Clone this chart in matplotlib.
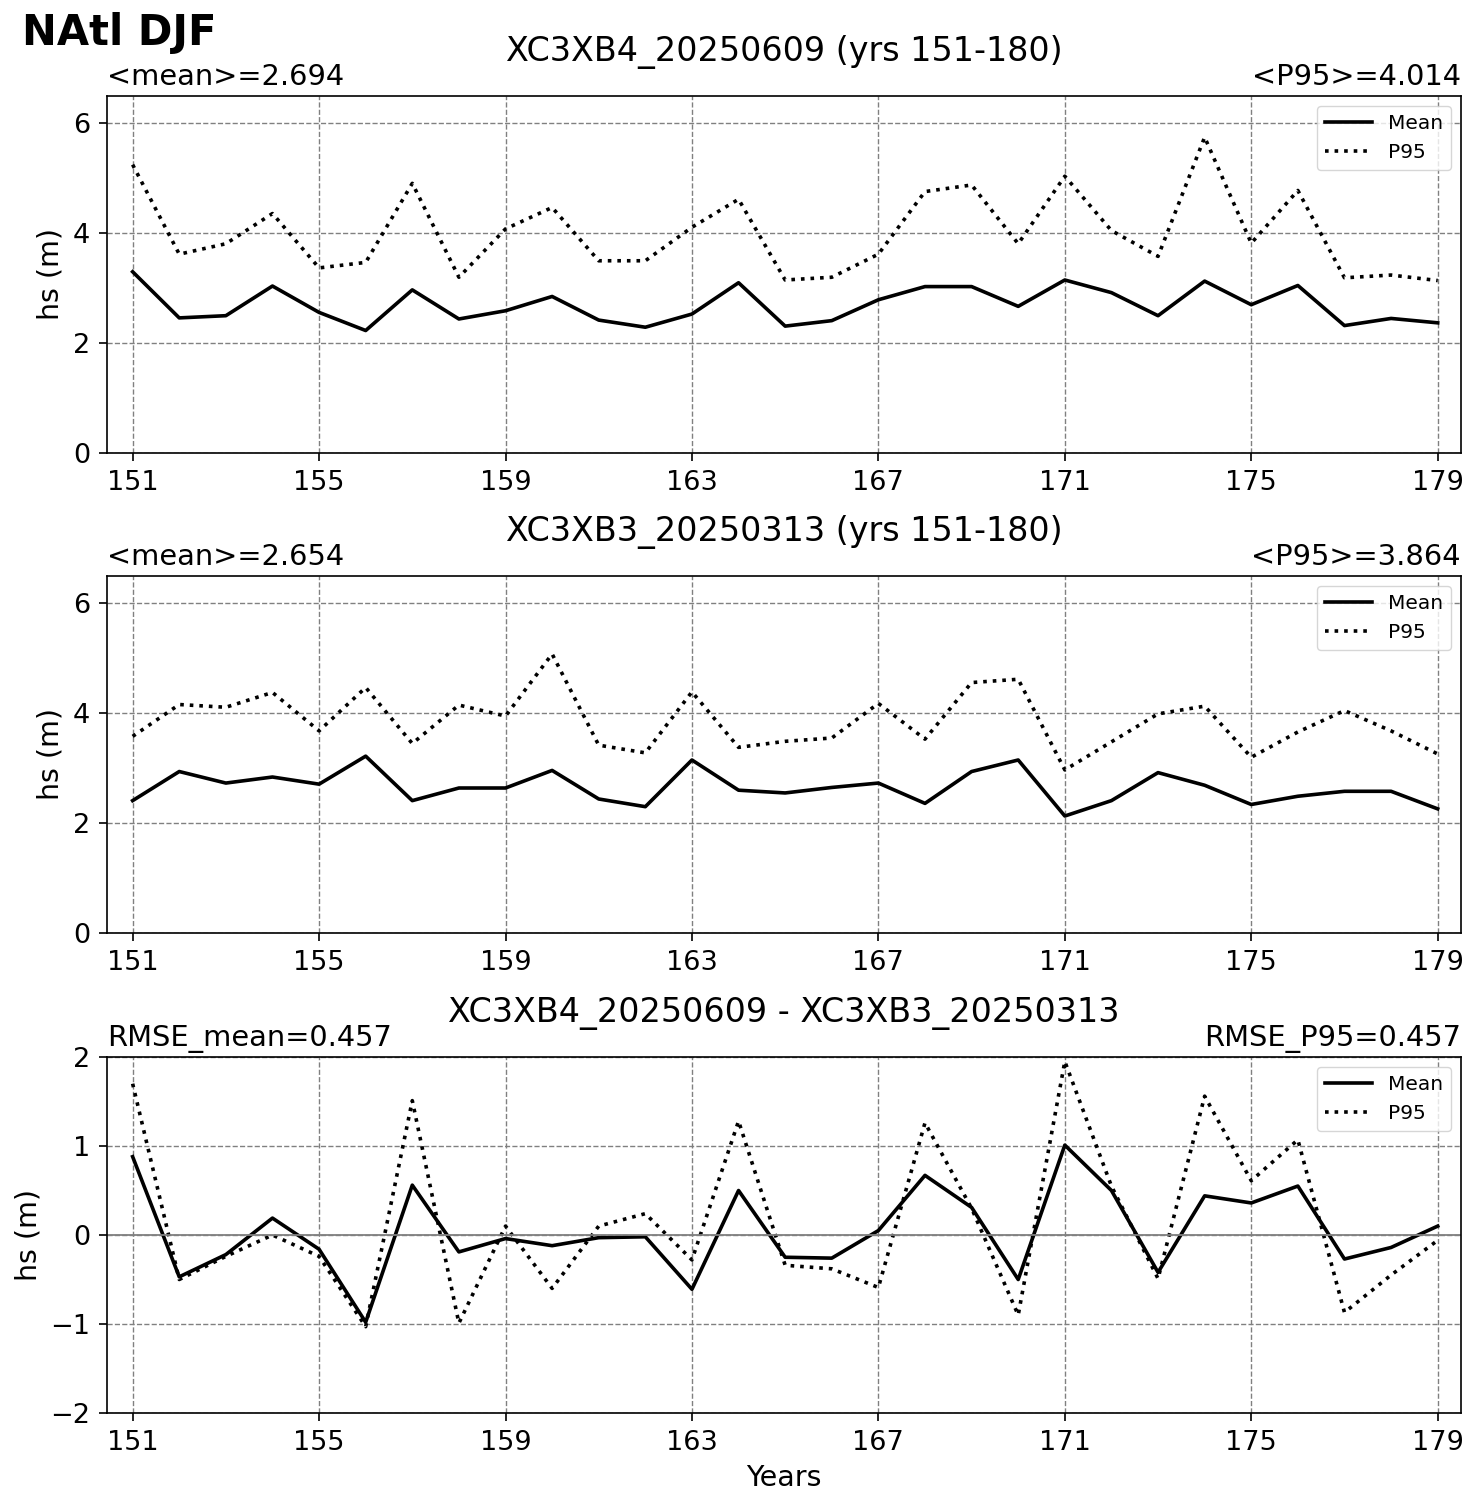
import matplotlib
matplotlib.use("Agg")
import matplotlib.pyplot as plt
import numpy as np

years = list(range(151, 180))

mean_b4 = [3.30, 2.46, 2.50, 3.04, 2.56, 2.23, 2.97, 2.44, 2.59, 2.85, 2.42, 2.29, 2.53, 3.10, 2.31,
           2.41, 2.79, 3.03, 3.03, 2.67, 3.15, 2.92, 2.50, 3.13, 2.70, 3.05, 2.32, 2.45, 2.37]
p95_b4 = [5.25, 3.62, 3.81, 4.36, 3.37, 3.47, 4.91, 3.20, 4.08, 4.47, 3.50, 3.50, 4.11, 4.62, 3.15,
          3.20, 3.62, 4.76, 4.88, 3.81, 5.04, 4.05, 3.58, 5.75, 3.82, 4.78, 3.19, 3.24, 3.14]

mean_b3 = [2.41, 2.94, 2.73, 2.84, 2.71, 3.22, 2.41, 2.64, 2.64, 2.96, 2.44, 2.30, 3.15, 2.60, 2.55,
           2.65, 2.73, 2.36, 2.94, 3.15, 2.13, 2.41, 2.92, 2.69, 2.34, 2.49, 2.58, 2.58, 2.26]
p95_b3 = [3.58, 4.16, 4.11, 4.38, 3.68, 4.47, 3.45, 4.15, 3.95, 5.08, 3.42, 3.28, 4.39, 3.38, 3.49,
          3.55, 4.18, 3.53, 4.56, 4.62, 2.97, 3.48, 3.99, 4.13, 3.20, 3.66, 4.05, 3.68, 3.26]

mean_diff = [0.88, -0.47, -0.22, 0.19, -0.16, -0.98, 0.56, -0.19, -0.04, -0.12, -0.03, -0.02, -0.61, 0.50, -0.25,
             -0.26, 0.05, 0.67, 0.31, -0.50, 1.01, 0.50, -0.42, 0.44, 0.36, 0.55, -0.27, -0.14, 0.10]
p95_diff = [1.70, -0.50, -0.24, 0.00, -0.24, -1.03, 1.51, -0.99, 0.10, -0.60, 0.10, 0.24, -0.28, 1.28, -0.34,
            -0.38, -0.59, 1.26, 0.30, -0.90, 1.95, 0.55, -0.49, 1.56, 0.61, 1.07, -0.87, -0.45, -0.06]

titles = ["XC3XB4_20250609 (yrs 151-180)", "XC3XB3_20250313 (yrs 151-180)",
          "XC3XB4_20250609 - XC3XB3_20250313"]
left_labels = ["<mean>=2.694", "<mean>=2.654", "RMSE_mean=0.457"]
right_labels = ["<P95>=4.014", "<P95>=3.864", "RMSE_P95=0.457"]
xticks = [151, 155, 159, 163, 167, 171, 175, 179]

FS = 19.5
W, H = 1481, 1507
fig = plt.figure(figsize=(W / 100, H / 100), dpi=100)

panels = [(mean_b4, p95_b4), (mean_b3, p95_b3), (mean_diff, p95_diff)]
tops = [96, 576, 1057]
bots = [453, 933, 1413]
left_px, right_px = 107, 1461

for i, (m, p) in enumerate(panels):
    ax = fig.add_axes([left_px / W, 1 - bots[i] / H, (right_px - left_px) / W, (bots[i] - tops[i]) / H])
    ax.plot(years, m, color="black", lw=2.6, ls="-", label="Mean")
    ax.plot(years, p, color="black", lw=2.6, ls=":", label="P95")
    ax.set_xlim(150.45, 179.5)
    if i < 2:
        ax.set_ylim(0, 6.5)
        ax.set_yticks([0, 2, 4, 6])
    else:
        ax.set_ylim(-2, 2)
        ax.set_yticks([-2, -1, 0, 1, 2])
        ax.axhline(0, color="gray", lw=1.3)
    ax.set_xticks(xticks)
    ax.tick_params(labelsize=FS, length=6, width=1.2, pad=6)
    ax.grid(True, ls="--", color="gray", lw=1.0)
    for s in ax.spines.values():
        s.set_linewidth(1.2)
    ax.set_ylabel("hs (m)", fontsize=20.5, labelpad=6)
    ax.set_title(left_labels[i], loc="left", fontsize=20.8, pad=8)
    ax.set_title(right_labels[i], loc="right", fontsize=20.8, pad=8)
    ax.annotate(titles[i], xy=(0.5, 1.0), xycoords="axes fraction", xytext=(0, 25),
                textcoords="offset points", ha="center", va="baseline", fontsize=24)
    ax.legend(loc="upper right", fontsize=14.5, handlelength=2.3)
    if i == 2:
        ax.set_xlabel("Years", fontsize=20.5, labelpad=6)

fig.text(22 / W, 1 - 33 / H, "NAtl DJF", fontsize=30, fontweight="bold", va="center", ha="left")

fig.savefig("out.png", dpi=100)
